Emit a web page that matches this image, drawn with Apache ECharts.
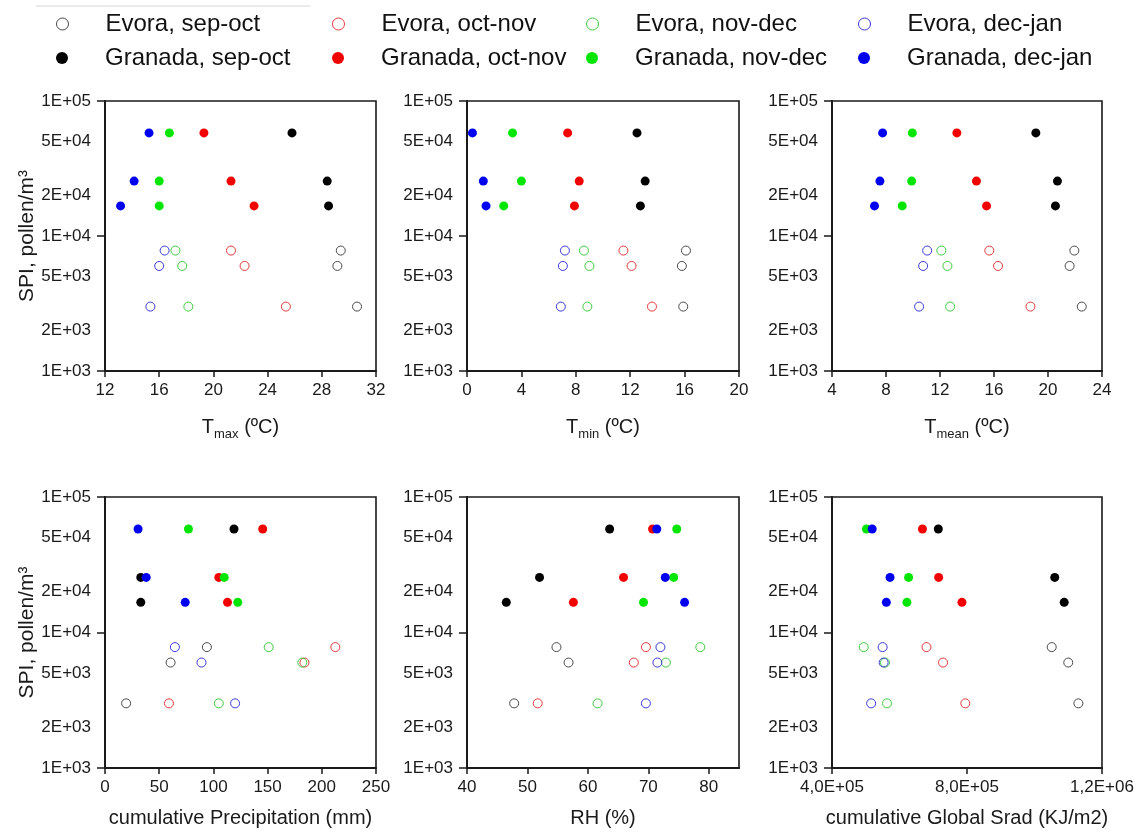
<!DOCTYPE html>
<html><head><meta charset="utf-8">
<script src="https://cdn.jsdelivr.net/npm/echarts@6/dist/echarts.min.js"></script>
<style>html,body{margin:0;padding:0;background:#fff}#c{width:1140px;height:834px}</style>
</head><body><div id="c"></div>
<script>
// ---------- data ----------
const seasons = ['sep-oct', 'oct-nov', 'nov-dec', 'dec-jan'];
const granadaSPI = [58000, 25500, 16700];
const evoraSPI = [7800, 6000, 3000];

const yTickValues = [1000, 2000, 5000, 10000, 20000, 50000, 100000];
const yTickLabels = ['1E+03', '2E+03', '5E+03', '1E+04', '2E+04', '5E+04', '1E+05'];
const rhTickValues = [40, 50, 60, 70, 80];
const sradTickValues = [400000, 800000, 1200000];
const sradTickLabels = ['4,0E+05', '8,0E+05', '1,2E+06'];

// x values per season [sep-oct, oct-nov, nov-dec, dec-jan]; each list aligned with the SPI lists
const tmaxGranada = [[25.8, 28.4, 28.5], [19.3, 21.3, 23.0], [16.75, 16.0, 16.0], [15.25, 14.15, 13.15]];
const tmaxEvora = [[29.4, 29.15, 30.6], [21.3, 22.3, 25.35], [17.2, 17.7, 18.15], [16.4, 16.0, 15.35]];
const tminGranada = [[12.5, 13.1, 12.75], [7.4, 8.25, 7.9], [3.35, 4.0, 2.7], [0.4, 1.2, 1.4]];
const tminEvora = [[16.1, 15.8, 15.9], [11.5, 12.1, 13.6], [8.6, 9.0, 8.85], [7.2, 7.05, 6.9]];
const tmeanGranada = [[19.1, 20.7, 20.55], [13.25, 14.7, 15.45], [9.95, 9.9, 9.2], [7.75, 7.55, 7.15]];
const tmeanEvora = [[21.95, 21.6, 22.5], [15.65, 16.3, 18.7], [12.1, 12.55, 12.75], [11.05, 10.75, 10.45]];
const precGranada = [[119, 33, 33], [145.5, 105, 113], [77, 110, 122.5], [30.5, 38, 74]];
const precEvora = [[94, 60.5, 19.5], [212.5, 184, 59], [151, 182, 105], [64.5, 89, 120]];
const rhGranada = [[63.6, 52, 46.5], [70.7, 65.9, 57.6], [74.7, 74.2, 69.2], [71.4, 72.8, 76]];
const rhEvora = [[54.8, 56.8, 47.8], [69.6, 67.6, 51.7], [78.6, 72.9, 61.6], [72, 71.5, 69.6]];
const sradGranada = [[715000, 1060000, 1088000], [668000, 716000, 785000], [502000, 627000, 622000], [519000, 572000, 561000]];
const sradEvora = [[1051000, 1100000, 1130000], [680000, 729000, 795000], [494000, 557000, 563000], [550000, 553000, 516000]];

// ---------- styling / layout ----------
const filledColors = ['#000000', '#f20000', '#00e600', '#0000f0'];
const hollowColors = ['#4a4a4a', '#e23a3a', '#3ccc3c', '#3a3ad8'];
const FONT = '"Liberation Sans", Arial, sans-serif';
const AX = '#1a1a1a';

const panels = [
  { g: tmaxGranada, e: tmaxEvora, min: 12, max: 32, interval: 4, name: '{t|T}{s|max}{t| (ºC)}' },
  { g: tminGranada, e: tminEvora, min: 0, max: 20, interval: 4, name: '{t|T}{s|min}{t| (ºC)}' },
  { g: tmeanGranada, e: tmeanEvora, min: 4, max: 24, interval: 4, name: '{t|T}{s|mean}{t| (ºC)}' },
  { g: precGranada, e: precEvora, min: 0, max: 250, interval: 50, name: 'cumulative Precipitation (mm)' },
  { g: rhGranada, e: rhEvora, min: 40, max: 85, interval: 10, name: 'RH (%)', custom: rhTickValues },
  { g: sradGranada, e: sradEvora, min: 400000, max: 1200000, interval: 400000, name: 'cumulative Global Srad (KJ/m2)', custom: sradTickValues, labels: sradTickLabels }
];
const gridLefts = [105, 467, 832];
const gridWidths = [271, 272, 270];
const gridTops = [101, 497];
const gridHeights = [270, 271];

function yLabel(v) {
  for (let i = 0; i < yTickValues.length; i++) {
    if (Math.abs(v - yTickValues[i]) / yTickValues[i] < 1e-6) return yTickLabels[i];
  }
  return '';
}

const grid = [], xAxis = [], yAxis = [], series = [];
panels.forEach((p, i) => {
  const row = Math.floor(i / 3), col = i % 3;
  grid.push({
    left: gridLefts[col], top: gridTops[row], width: gridWidths[col], height: gridHeights[row],
    show: true, borderColor: AX, borderWidth: 1.6, backgroundColor: 'transparent'
  });
  const xa = {
    type: 'value', gridIndex: i, min: p.min, max: p.max, interval: p.interval,
    axisLine: { show: true, onZero: false, lineStyle: { color: AX, width: 2 } },
    axisTick: { show: true, length: 6, lineStyle: { color: AX, width: 1.5 } },
    axisLabel: { fontSize: 17, color: AX, margin: 11, fontFamily: FONT },
    splitLine: { show: false },
    name: p.name, nameLocation: 'middle',
    nameGap: row === 0 ? 42 : 40,
    nameTextStyle: {
      fontSize: 20, color: AX, fontFamily: FONT,
      rich: {
        t: { fontSize: 20, lineHeight: 28, verticalAlign: 'middle', color: AX, fontFamily: FONT },
        s: { fontSize: 13, verticalAlign: 'bottom', color: AX, fontFamily: FONT }
      }
    }
  };
  if (p.custom) {
    xa.axisLabel.customValues = p.custom;
    xa.axisTick.customValues = p.custom;
  }
  if (p.labels) {
    const vals = p.custom, labs = p.labels;
    xa.axisLabel.formatter = v => {
      for (let k = 0; k < vals.length; k++) if (Math.abs(v - vals[k]) < 1) return labs[k];
      return '';
    };
  }
  xAxis.push(xa);
  yAxis.push({
    type: 'log', logBase: 10, gridIndex: i, min: 1000, max: 100000,
    axisLine: { show: true, lineStyle: { color: AX, width: 2 } },
    axisTick: { show: true, length: 8, lineStyle: { color: AX, width: 1.5 } },
    axisLabel: { customValues: yTickValues, formatter: yLabel, fontSize: 17, color: AX, margin: 14, fontFamily: FONT },
    minorTick: { show: false },
    splitLine: { show: false },
    name: col === 0 ? 'SPI, pollen/m³' : '',
    nameLocation: 'middle', nameGap: 66, nameRotate: 90,
    nameTextStyle: { fontSize: 21, color: AX, fontFamily: FONT }
  });
  seasons.forEach((s, k) => {
    series.push({
      type: 'scatter', name: 'Evora, ' + s, xAxisIndex: i, yAxisIndex: i,
      symbol: 'circle', symbolSize: 9,
      itemStyle: { color: 'rgba(255,255,255,0)', borderColor: hollowColors[k], borderWidth: 1, opacity: 1 },
      emphasis: { disabled: true },
      data: p.e[k].map((x, j) => [x, evoraSPI[j]]),
      z: 2
    });
  });
  seasons.forEach((s, k) => {
    series.push({
      type: 'scatter', name: 'Granada, ' + s, xAxisIndex: i, yAxisIndex: i,
      symbol: 'circle', symbolSize: 9,
      itemStyle: { color: filledColors[k], opacity: 1 },
      emphasis: { disabled: true },
      data: p.g[k].map((x, j) => [x, granadaSPI[j]]),
      z: 3
    });
  });
});

const legendLefts = [56, 332, 586, 858];
const legend = [];
['Evora', 'Granada'].forEach((site, r) => {
  seasons.forEach((s, k) => {
    const l = {
      data: [site + ', ' + s], left: legendLefts[k], top: r === 0 ? 12 : 46,
      orient: 'horizontal', itemWidth: 76, itemHeight: 12, itemGap: 0, padding: 0,
      selectedMode: false, symbolKeepAspect: true,
      textStyle: { fontSize: 24, color: '#111', fontFamily: FONT }
    };
    if (r === 0) l.itemStyle = { borderWidth: 1 };
    legend.push(l);
  });
});

const chart = echarts.init(document.getElementById('c'), null, { renderer: 'canvas' });
chart.setOption({
  animation: false,
  backgroundColor: '#fff',
  textStyle: { fontFamily: FONT },
  graphic: [{ type: 'line', shape: { x1: 36, y1: 6, x2: 310, y2: 6 }, style: { stroke: '#d6d6d6', lineWidth: 1 } }],
  legend, grid, xAxis, yAxis, series
});
</script></body></html>
